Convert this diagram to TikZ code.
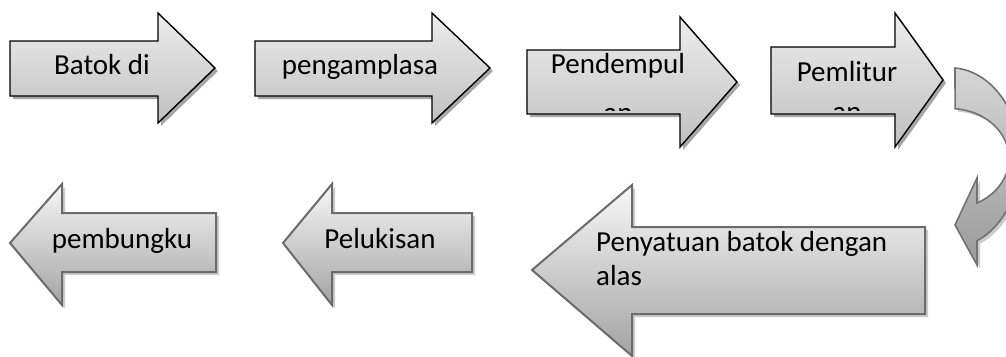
\documentclass[tikz,border=0pt]{standalone}
\usepackage{fontspec}
\setmainfont{Carlito}
\newcommand\flowarrow[9]{%
  \fill[#1shadow,shift={(3,3)}] (#2,#3) -- (#5,#3) -- (#5,#6) -- (#8,#9) -- (#5,#7) -- (#5,#4) -- (#2,#4) -- cycle;
  \draw[#1] (#2,#3) -- (#5,#3) -- (#5,#6) -- (#8,#9) -- (#5,#7) -- (#5,#4) -- (#2,#4) -- cycle;}
\tikzset{
  toprow/.style={draw=black, line width=1.4pt, top color=black!7, bottom color=black!25},
  toprowshadow/.style={fill=black!35},
  botrow/.style={draw=black!58, line width=2pt, top color=black!3, bottom color=black!36},
  botrowshadow/.style={fill=black!20},
  curv/.style={draw=black!55, line width=1.6pt, top color=black!16, bottom color=black!40},
  curvshadow/.style={fill=black!20},
  lbl/.style={font=\fontsize{29}{35}\selectfont, inner sep=0pt, text=black}
}
\begin{document}
\begin{tikzpicture}[x=1pt,y=-1pt]
\useasboundingbox (0,0) rectangle (1006,356);
\clip (0,0) rectangle (1006,356);
% top row: style, L, T, B, H, HT, HB, tipX, tipY
\flowarrow{toprow}{10}{41}{96}{158}{13}{123}{215}{68}
\flowarrow{toprow}{255}{41}{96}{432}{13}{123}{490}{68}
\flowarrow{toprow}{527}{50}{114}{680}{17}{147}{737}{82}
\flowarrow{toprow}{771}{47}{114}{895}{13}{147}{943}{80}
% bottom row
\flowarrow{botrow}{216}{213}{272}{62}{184}{305}{10}{243}
\flowarrow{botrow}{472}{213}{272}{332}{184}{305}{283}{243}
\flowarrow{botrow}{925}{227}{314}{632}{185}{356}{532}{270}
% curved arrow
\fill[curvshadow,shift={(3,3)}] (955,68) arc[start angle=-85.9,end angle=67.3,x radius=70,y radius=90]
  -- (977,265) -- (955,225) -- (977,178) -- (977,203)
  arc[start angle=62.8,end angle=-85.1,x radius=59,y radius=50] -- cycle;
\draw[curv] (955,68) arc[start angle=-85.9,end angle=67.3,x radius=70,y radius=90]
  -- (977,265) -- (955,225) -- (977,178) -- (977,203)
  arc[start angle=62.8,end angle=-85.1,x radius=59,y radius=50] -- cycle;
% labels
\node[lbl, anchor=base] (t1) at (102,74) {Batok di};
\node[lbl, anchor=base] (t2) at (360,74) {pengamplasa};
\begin{scope}
\clip (520,40) rectangle (940,110);
\node[lbl, anchor=base] (t3) at (618,73) {Pendempul};
\node[lbl, anchor=base] (t3b) at (618,122) {an};
\node[lbl, anchor=base] (t4) at (847,81) {Pemlitur};
\node[lbl, anchor=base] (t4b) at (847,121) {an};
\end{scope}
\node[lbl, anchor=base] (t5) at (122,248) {pembungku};
\node[lbl, anchor=base] (t6) at (380,248) {Pelukisan};
\node[lbl, anchor=base west] (t7) at (596,251) {Penyatuan batok dengan};
\node[lbl, anchor=base west] (t7b) at (596,285) {alas};
\end{tikzpicture}
\end{document}
